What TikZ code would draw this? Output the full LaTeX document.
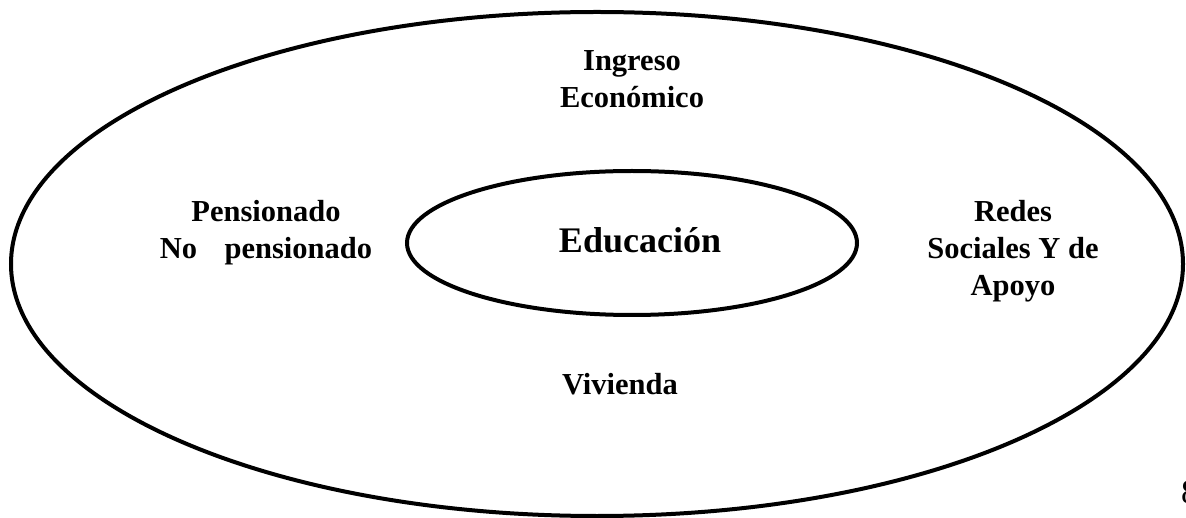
\documentclass[tikz,border=0pt]{standalone}
\usepackage{fontspec}
\setmainfont{Liberation Serif}
\usetikzlibrary{shapes.geometric}
\tikzset{
  ring/.style={draw=black, line width=4pt, ellipse, inner sep=0pt},
  lbl/.style={font=\fontsize{30.5pt}{37pt}\selectfont\bfseries, align=center, inner sep=0pt},
  core/.style={font=\fontsize{36pt}{42pt}\selectfont\bfseries, inner sep=0pt},
  pagenum/.style={font=\fontsize{34pt}{40pt}\selectfont, inner sep=0pt}
}
\begin{document}
\begin{tikzpicture}[x=1pt,y=-1pt]
\useasboundingbox (0,0) rectangle (1186,518);
\node[ring, minimum width=1172pt, minimum height=504pt] (outer) at (597,264) {};
\node[ring, minimum width=450pt, minimum height=144pt] (inner) at (632,243) {};
\node[core, anchor=base] (edu) at (640,253) {Educación};
\node[lbl] (ing) at (632,79) {Ingreso\\Económico};
\node[lbl] (pen) at (266,233) {Pensionado\\No\hspace{0.9em}pensionado};
\node[lbl] (red) at (1013,251) {Redes\\Sociales Y de\\Apoyo};
\node[lbl, anchor=base] (viv) at (620,395) {Vivienda};
\node[pagenum, anchor=base west] (pg) at (1181,503) {8};
\end{tikzpicture}
\end{document}
